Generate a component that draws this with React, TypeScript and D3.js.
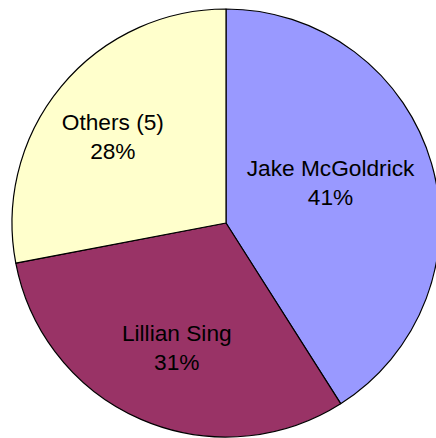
import React from "react";
import * as d3 from "d3";

const categories = ["Jake McGoldrick", "Lillian Sing", "Others (5)"];
const values = [41, 31, 28];
const percentLabels = ["41%", "31%", "28%"];
const colors = ["#9999FF", "#993366", "#FFFFCC"];
// label nudges relative to centroid (px)
const labelNudgeX = [-29, 6, -6];
const labelNudgeY = [-2, -4, 2];

const W = 436;
const H = 438;
const cx = 226;
const cy = 223;
const R = 214;

export default function App() {
  const pie = d3.pie<number>().sort(null).value((d) => d);
  const arcs = pie(values);
  const arc = d3.arc<d3.PieArcDatum<number>>().innerRadius(0).outerRadius(R);
  const labelArc = d3
    .arc<d3.PieArcDatum<number>>()
    .innerRadius(R * 0.65)
    .outerRadius(R * 0.65);
  const fontSize = 22.7;
  const lineGap = 29;
  return (
    <svg
      width={W}
      height={H}
      style={{ position: "absolute", left: 0, top: 0, display: "block", background: "#fff" }}
    >
      <g transform={`translate(${cx},${cy})`}>
        {arcs.map((a, i) => (
          <path key={i} d={arc(a) || ""} fill={colors[i]} stroke="#000" strokeWidth={1.2} strokeLinejoin="round" />
        ))}
        {arcs.map((a, i) => {
          const [x, y] = labelArc.centroid(a);
          const lx = x + labelNudgeX[i];
          const ly = y + labelNudgeY[i];
          return (
            <text
              key={"t" + i}
              x={lx}
              y={ly}
              textAnchor="middle"
              fontFamily="'Liberation Sans', Arial, sans-serif"
              fontSize={fontSize}
              fill="#000"
            >
              <tspan x={lx} y={ly - 6}>{categories[i]}</tspan>
              <tspan x={lx} y={ly - 6 + lineGap}>{percentLabels[i]}</tspan>
            </text>
          );
        })}
      </g>
    </svg>
  );
}
